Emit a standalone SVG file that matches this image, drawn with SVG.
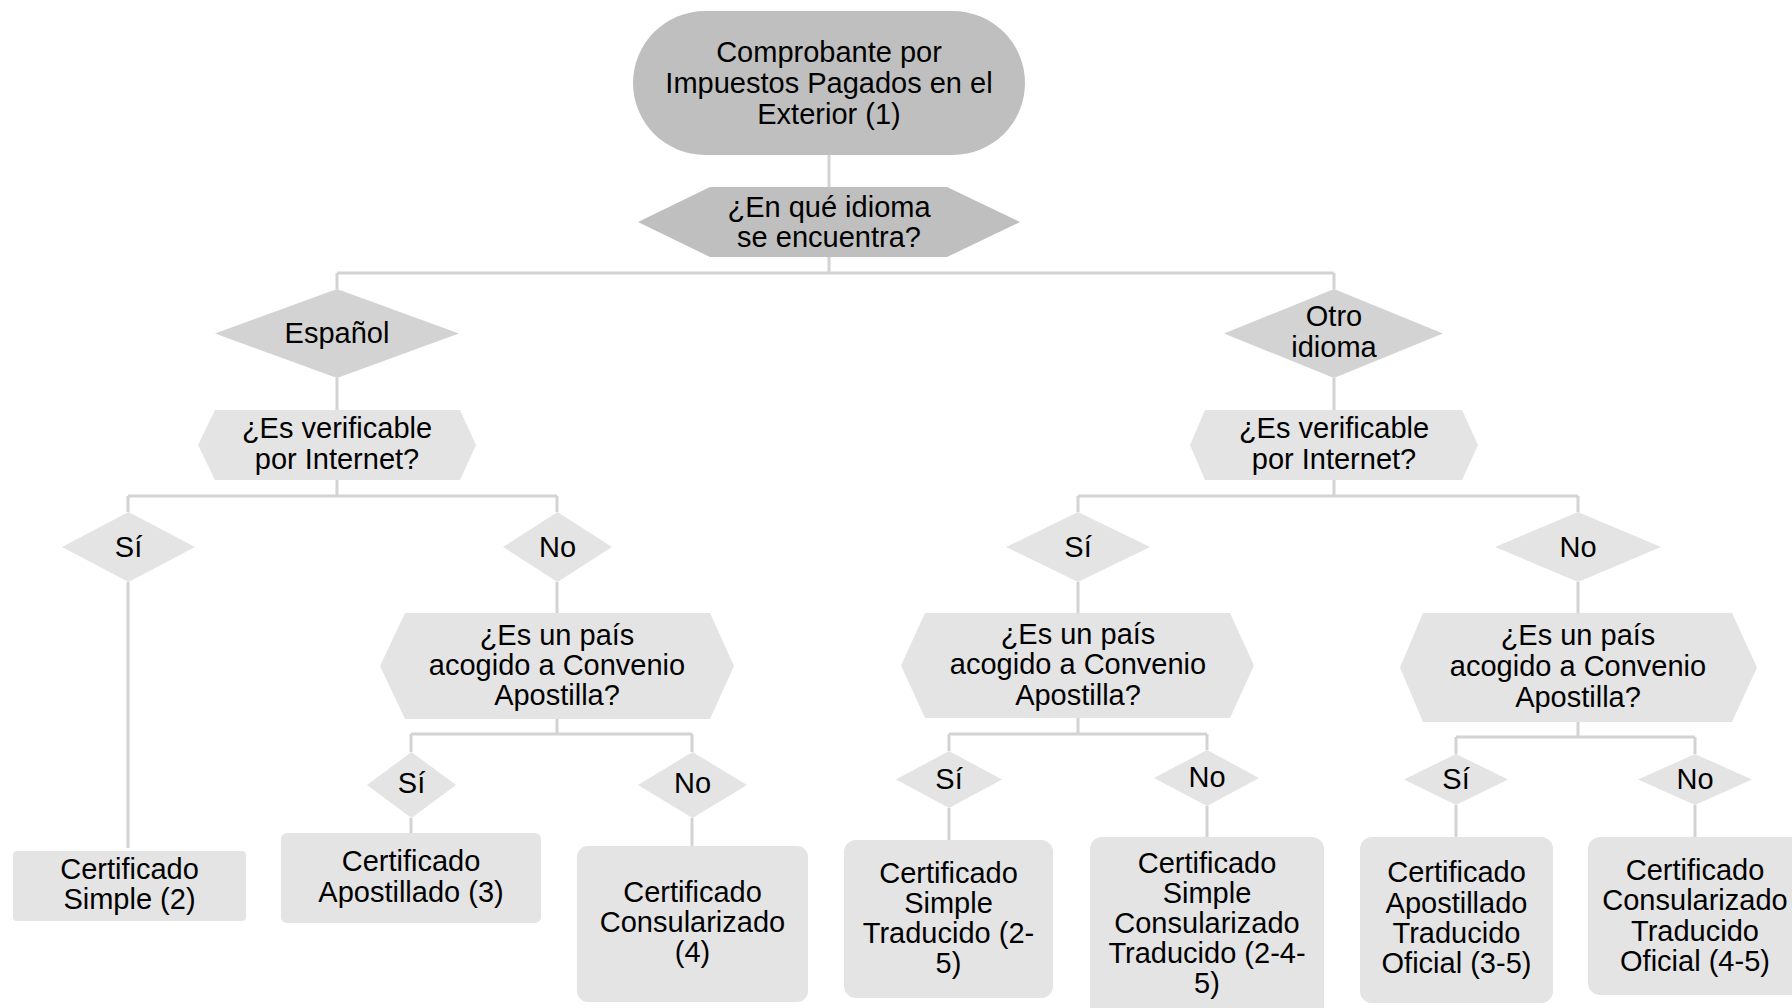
<svg xmlns="http://www.w3.org/2000/svg" width="1792" height="1008" viewBox="0 0 1792 1008">
<style>
text{font-family:"Liberation Sans",Arial,sans-serif;font-size:29px;fill:#000;text-anchor:middle}
.dark{fill:#bfbfbf}
.mid{fill:#d3d3d3}
.light{fill:#e4e4e4}
.conn{stroke:#d3d3d3;stroke-width:3;fill:none}
</style>
<rect width="1792" height="1008" fill="#ffffff"/>
<g id="connectors" class="conn">
<path d="M829,155V187"/>
<path d="M829,257V273M337,273H1334M337,273V289M1334,273V289"/>
<path d="M337,378V410M1334,378V410"/>
<path d="M337,480V496M128,496H557M128,496V512M557,496V512"/>
<path d="M1334,480V496M1078,496H1578M1078,496V512M1578,496V512"/>
<path d="M128,582V848"/>
<path d="M557,582V613M1078,582V613M1578,582V613"/>
<path d="M557,719V734M411,734H692M411,734V752M692,734V752"/>
<path d="M1078,718V734M949,734H1207M949,734V751M1207,734V750"/>
<path d="M1578,722V737M1456,737H1695M1456,737V754M1695,737V754"/>
<path d="M411,818V833M692,818V846"/>
<path d="M949,808V840M1207,806V837"/>
<path d="M1456,805V837M1695,805V837"/>
</g>
<g id="n-start">
<rect class="dark" x="633" y="11" width="392" height="144" rx="72" ry="72"/>
<text x="829" y="62">Comprobante por</text>
<text x="829" y="93">Impuestos Pagados en el</text>
<text x="829" y="124">Exterior (1)</text>
</g>
<g id="n-idioma">
<polygon class="dark" points="710,187 947,187 1020,222 947,257 710,257 638,222"/>
<text x="829" y="217">¿En qué idioma</text>
<text x="829" y="247">se encuentra?</text>
</g>
<g id="n-espanol">
<polygon class="mid" points="337,289 459,333.5 337,378 215,333.5"/>
<text x="337" y="343">Español</text>
</g>
<g id="n-otro">
<polygon class="mid" points="1334,289 1443,333.5 1334,378 1224,333.5"/>
<text x="1334" y="326">Otro</text>
<text x="1334" y="357">idioma</text>
</g>
<g id="n-verif-l">
<polygon class="light" points="215,410 460,410 476,445 460,480 215,480 198,445"/>
<text x="337" y="438">¿Es verificable</text>
<text x="337" y="469">por Internet?</text>
</g>
<g id="n-verif-r">
<polygon class="light" points="1205,410 1462,410 1478,445 1462,480 1205,480 1190,445"/>
<text x="1334" y="438">¿Es verificable</text>
<text x="1334" y="469">por Internet?</text>
</g>
<g id="n-si-l">
<polygon class="light" points="128.5,512 195,547 128.5,582 62,547"/>
<text x="128.5" y="557">Sí</text>
</g>
<g id="n-no-l">
<polygon class="light" points="557.5,512 612,547 557.5,582 503,547"/>
<text x="557.5" y="557">No</text>
</g>
<g id="n-si-r">
<polygon class="light" points="1078,512 1150,547 1078,582 1006,547"/>
<text x="1078" y="557">Sí</text>
</g>
<g id="n-no-r">
<polygon class="light" points="1578,512 1661,547 1578,582 1495,547"/>
<text x="1578" y="557">No</text>
</g>
<g id="n-pais-l">
<polygon class="light" points="405,613 710,613 734,666 710,719 405,719 380,666"/>
<text x="557" y="645">¿Es un país</text>
<text x="557" y="675">acogido a Convenio</text>
<text x="557" y="705">Apostilla?</text>
</g>
<g id="n-pais-m">
<polygon class="light" points="925,613 1230,613 1254,665.5 1230,718 925,718 901,665.5"/>
<text x="1078" y="644">¿Es un país</text>
<text x="1078" y="674">acogido a Convenio</text>
<text x="1078" y="705">Apostilla?</text>
</g>
<g id="n-pais-r">
<polygon class="light" points="1423,613 1732,613 1757,667.5 1732,722 1423,722 1400,667.5"/>
<text x="1578" y="645">¿Es un país</text>
<text x="1578" y="676">acogido a Convenio</text>
<text x="1578" y="707">Apostilla?</text>
</g>
<g id="n-si-ll">
<polygon class="light" points="411.5,752 456,785 411.5,818 367,785"/>
<text x="411.5" y="793">Sí</text>
</g>
<g id="n-no-ll">
<polygon class="light" points="692.5,752 747,785 692.5,818 638,785"/>
<text x="692.5" y="793">No</text>
</g>
<g id="n-si-m">
<polygon class="light" points="949,751 1002,779.5 949,808 896,779.5"/>
<text x="949" y="789">Sí</text>
</g>
<g id="n-no-m">
<polygon class="light" points="1207,750 1259,778 1207,806 1154,778"/>
<text x="1207" y="787">No</text>
</g>
<g id="n-si-rr">
<polygon class="light" points="1456,754 1508,779.5 1456,805 1404,779.5"/>
<text x="1456" y="789">Sí</text>
</g>
<g id="n-no-rr">
<polygon class="light" points="1695,754 1752,779.5 1695,805 1638,779.5"/>
<text x="1695" y="789">No</text>
</g>
<g id="b-simple">
<rect class="light" x="13" y="851" width="233" height="70" rx="4"/>
<text x="129.5" y="879">Certificado</text>
<text x="129.5" y="909">Simple (2)</text>
</g>
<g id="b-apostillado">
<rect class="light" x="281" y="833" width="260" height="90" rx="6"/>
<text x="411" y="871">Certificado</text>
<text x="411" y="902">Apostillado (3)</text>
</g>
<g id="b-consularizado">
<rect class="light" x="577" y="846" width="231" height="156" rx="11"/>
<text x="692.5" y="902">Certificado</text>
<text x="692.5" y="932">Consularizado</text>
<text x="692.5" y="962">(4)</text>
</g>
<g id="b-simple-trad">
<rect class="light" x="844" y="840" width="209" height="158" rx="12"/>
<text x="948.5" y="883">Certificado</text>
<text x="948.5" y="913">Simple</text>
<text x="948.5" y="943">Traducido (2-</text>
<text x="948.5" y="973">5)</text>
</g>
<g id="b-simple-cons-trad">
<rect class="light" x="1090" y="837" width="234" height="185" rx="12"/>
<text x="1207" y="873">Certificado</text>
<text x="1207" y="903">Simple</text>
<text x="1207" y="933">Consularizado</text>
<text x="1207" y="963">Traducido (2-4-</text>
<text x="1207" y="993">5)</text>
</g>
<g id="b-apost-trad">
<rect class="light" x="1360" y="837" width="193" height="166" rx="12"/>
<text x="1456.5" y="882">Certificado</text>
<text x="1456.5" y="913">Apostillado</text>
<text x="1456.5" y="943">Traducido</text>
<text x="1456.5" y="973">Oficial (3-5)</text>
</g>
<g id="b-cons-trad">
<rect class="light" x="1588" y="837" width="216" height="158" rx="12"/>
<text x="1695" y="880">Certificado</text>
<text x="1695" y="910">Consularizado</text>
<text x="1695" y="941">Traducido</text>
<text x="1695" y="971">Oficial (4-5)</text>
</g>
</svg>
